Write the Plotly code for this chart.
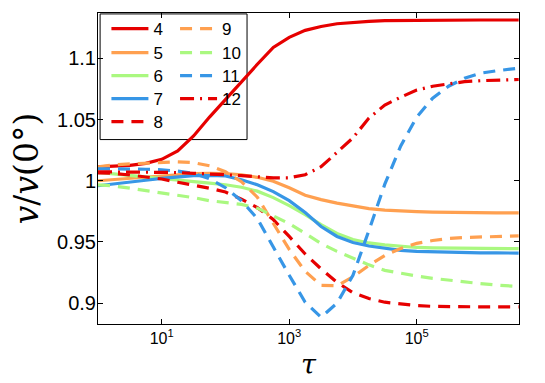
import plotly.graph_objects as go

# shared x samples (tau), log-spaced
tau = [1, 1.78, 3.16, 5.62, 10, 17.8, 31.6, 56.2, 100, 178, 316, 562,
       1e3, 1.78e3, 3.16e3, 5.62e3, 1e4, 1.78e4, 3.16e4, 5.62e4,
       1e5, 1.78e5, 3.16e5, 5.62e5, 1e6, 1.78e6, 3.16e6, 3.98e6]

v4 = [1.0114, 1.0120, 1.0126, 1.0142, 1.0175, 1.0244, 1.0366, 1.0520, 1.0667, 1.0813,
      1.0951, 1.1089, 1.1171, 1.1228, 1.1260, 1.1282, 1.1293, 1.1301, 1.1307, 1.1309,
      1.1311, 1.1312, 1.1313, 1.1313, 1.1313, 1.1313, 1.1313, 1.1313]
v5 = [1.0000, 1.0010, 1.0022, 1.0034, 1.0045, 1.0052, 1.0059, 1.0061, 1.0059, 1.0049,
      1.0028, 0.9996, 0.9943, 0.9882, 0.9846, 0.9817, 0.9793, 0.9772, 0.9760, 0.9752,
      0.9748, 0.9744, 0.9741, 0.9740, 0.9739, 0.9738, 0.9737, 0.9737]
v6 = [1.0069, 1.0057, 1.0042, 1.0028, 1.0016, 1.0004, 0.9992, 0.9980, 0.9967, 0.9947,
      0.9915, 0.9862, 0.9797, 0.9724, 0.9642, 0.9569, 0.9520, 0.9492, 0.9476, 0.9463,
      0.9455, 0.9451, 0.9449, 0.9447, 0.9446, 0.9446, 0.9445, 0.9445]
v7 = [0.9959, 0.9972, 0.9989, 1.0004, 1.0020, 1.0033, 1.0041, 1.0043, 1.0039, 1.0008,
      0.9967, 0.9911, 0.9837, 0.9740, 0.9626, 0.9545, 0.9496, 0.9467, 0.9447, 0.9431,
      0.9423, 0.9419, 0.9415, 0.9413, 0.9411, 0.9411, 0.9410, 0.9409]
v8 = [1.0065, 1.0060, 1.0047, 1.0031, 1.0014, 0.9988, 0.9965, 0.9939, 0.9908, 0.9850,
      0.9780, 0.9683, 0.9545, 0.9402, 0.9280, 0.9171, 0.9085, 0.9038, 0.9008, 0.8992,
      0.8980, 0.8974, 0.8971, 0.8970, 0.8970, 0.8970, 0.8970, 0.8970]
v9 = [1.0114, 1.0130, 1.0138, 1.0145, 1.0153, 1.0154, 1.0148, 1.0122, 1.0073, 0.9992,
      0.9866, 0.9650, 0.9439, 0.9260, 0.9146, 0.9142, 0.9215, 0.9309, 0.9390, 0.9447,
      0.9488, 0.9512, 0.9528, 0.9537, 0.9542, 0.9546, 0.9548, 0.9549]
v10 = [0.9967, 0.9957, 0.9939, 0.9921, 0.9902, 0.9884, 0.9862, 0.9837, 0.9823, 0.9807,
       0.9776, 0.9715, 0.9650, 0.9569, 0.9488, 0.9423, 0.9366, 0.9313, 0.9268, 0.9244,
       0.9222, 0.9203, 0.9187, 0.9172, 0.9160, 0.9148, 0.9138, 0.9136]
v11 = [1.0098, 1.0098, 1.0096, 1.0094, 1.0089, 1.0079, 1.0061, 1.0016, 0.9943, 0.9837,
       0.9691, 0.9455, 0.9228, 0.9008, 0.8886, 0.9000, 0.9228, 0.9593, 0.9972, 1.0285,
       1.0520, 1.0675, 1.0772, 1.0837, 1.0878, 1.0898, 1.0915, 1.0919]
v12 = [1.0073, 1.0073, 1.0073, 1.0073, 1.0071, 1.0067, 1.0061, 1.0057, 1.0049, 1.0041,
       1.0033, 1.0024, 1.0024, 1.0049, 1.0114, 1.0236, 1.0350, 1.0512, 1.0618, 1.0683,
       1.0740, 1.0772, 1.0793, 1.0809, 1.0817, 1.0821, 1.0825, 1.0827]

names = ["4", "5", "6", "7", "8", "9", "10", "11", "12"]
series = [v4, v5, v6, v7, v8, v9, v10, v11, v12]

xtick_vals = [10, 1e3, 1e5]
xtick_text = ["10<sup>1</sup>", "10<sup>3</sup>", "10<sup>5</sup>"]
ytick_vals = [0.9, 0.95, 1.0, 1.05, 1.1]
ytick_text = ["0.9", "0.95", "1", "1.05", "1.1"]

RED = "rgb(230,0,0)"
ORANGE = "rgb(255,160,80)"
GREEN = "rgb(170,248,128)"
BLUE = "rgb(55,150,230)"
colors = [RED, ORANGE, GREEN, BLUE, RED, ORANGE, GREEN, BLUE, RED]
DASH = "12px,8px"
dashes = ["solid"] * 4 + [DASH] * 4 + ["14px,6px,2px,6px"]

# legend layout: two columns (col, row) for each entry
leg_col = [0, 0, 0, 0, 0, 1, 1, 1, 1]
leg_row = [0, 1, 2, 3, 4, 0, 1, 2, 3]
col_x = [0.020, 0.183]
row_y = [0.9455, 0.8686, 0.7949, 0.7212, 0.6474]

fig = go.Figure()
legend_layout = {}
for i, (nm, ys, c, d) in enumerate(zip(names, series, colors, dashes)):
    lg = "legend" if i == 0 else f"legend{i + 1}"
    fig.add_trace(go.Scatter(x=tau, y=ys, mode="lines", name=nm,
                             line=dict(color=c, width=3.2, dash=d), legend=lg))
    legend_layout[lg] = dict(x=col_x[leg_col[i]], y=row_y[leg_row[i]], xanchor="left", yanchor="middle",
                             bgcolor="rgba(0,0,0,0)", borderwidth=0, itemwidth=37,
                             font=dict(family="Liberation Sans, Arial, sans-serif", size=17, color="black"))

FONT = "Liberation Sans, Arial, sans-serif"
SERIF = "DejaVu Serif, Liberation Serif, serif"

fig.update_layout(
    width=545, height=383,
    margin=dict(l=98, r=26, t=12, b=59, pad=0),
    paper_bgcolor="white", plot_bgcolor="white",
    showlegend=True,
    shapes=[dict(type="rect", xref="paper", yref="paper", x0=0.005, x1=0.354, y0=0.593, y1=0.997,
                 line=dict(color="black", width=1), fillcolor="white", layer="below")],
    annotations=[dict(text="<i>τ</i>", xref="paper", yref="paper", x=0.5, y=-0.131,
                      xanchor="center", yanchor="middle", showarrow=False,
                      font=dict(family=SERIF, size=27, color="black"))],
    xaxis=dict(type="log", range=[0, 6.605], tickmode="array", tickvals=xtick_vals, ticktext=xtick_text,
               ticks="inside", ticklen=5, tickcolor="black", showline=True, linecolor="black", linewidth=1,
               mirror="ticks", showgrid=False, zeroline=False, automargin=False,
               tickfont=dict(family=FONT, size=16, color="black")),
    yaxis=dict(range=[0.883, 1.137], tickmode="array", tickvals=ytick_vals, ticktext=ytick_text,
               ticks="inside", ticklen=5, tickcolor="black", showline=True, linecolor="black", linewidth=1,
               mirror="ticks", showgrid=False, zeroline=False, ticklabelstandoff=-3,
               tickfont=dict(family=FONT, size=20, color="black"),
               title=dict(text="<i>v</i>/<i>v</i>(0°)", font=dict(family=SERIF, size=33, color="black"), standoff=8)),
    **legend_layout,
)
fig.write_html("out.html", config={"displayModeBar": False},
               post_script="document.body.style.margin='0';document.body.style.overflow='hidden';")
